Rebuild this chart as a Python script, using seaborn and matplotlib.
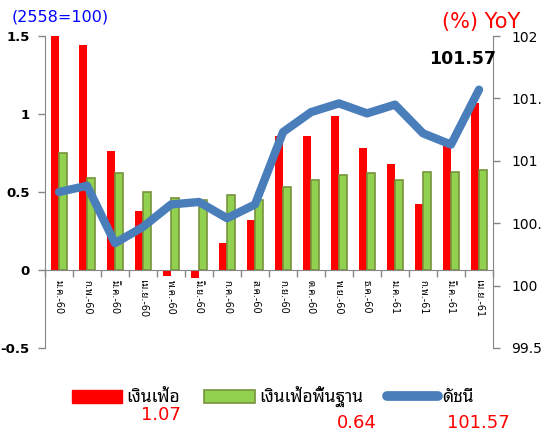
import numpy as np
import pandas as pd
import matplotlib
matplotlib.use("Agg")
import matplotlib.pyplot as plt
from matplotlib.patches import Patch
from matplotlib.lines import Line2D
from matplotlib.ticker import FixedLocator, FixedFormatter
import seaborn as sns

# Data
months = ["ม.ค.-60", "ก.พ.-60", "มี.ค.-60", "เม.ย.-60", "พ.ค.-60", "มิ.ย.-60",
          "ก.ค.-60", "ส.ค.-60", "ก.ย.-60", "ต.ค.-60", "พ.ย.-60", "ธ.ค.-60",
          "ม.ค.-61", "ก.พ.-61", "มี.ค.-61", "เม.ย.-61"]
headline = [1.55, 1.44, 0.76, 0.38, -0.04, -0.05, 0.17, 0.32,
            0.86, 0.86, 0.99, 0.78, 0.68, 0.42, 0.84, 1.07]
core = [0.75, 0.59, 0.62, 0.50, 0.46, 0.45, 0.48, 0.45,
        0.53, 0.58, 0.61, 0.62, 0.58, 0.63, 0.63, 0.64]
cpi_index = [100.75, 100.80, 100.34, 100.47, 100.65, 100.67, 100.54, 100.65,
             101.23, 101.39, 101.46, 101.38, 101.45, 101.22, 101.13, 101.57]
series_names = ["เงินเฟ้อ", "เงินเฟ้อพื้นฐาน", "ดัชนี"]
left_ticks = [-0.5, 0, 0.5, 1, 1.5]
left_labels = ["-0.5", "0", "0.5", "1", "1.5"]
right_ticks = [99.5, 100, 100.5, 101, 101.5, 102]
right_labels = ["99.5", "100", "100.", "101", "101.", "102"]

RED = "#ff0000"
GREEN = "#92d050"
GREEN_EDGE = "#77933c"
BLUE = "#4a7ebb"
GREY = "#868686"

sns.set_style("white", {"text.color": "black", "xtick.color": "black",
                        "ytick.color": "black"})
plt.rcParams["font.family"] = ["DejaVu Sans", "Noto Sans Thai Looped"]

df = pd.DataFrame({
    "month": months * 2,
    "value": headline + core,
    "series": [series_names[0]] * len(months) + [series_names[1]] * len(months),
})

fig = plt.figure(figsize=(5.45, 4.37), dpi=100)
ax = fig.add_axes([0.0826, 0.2037, 0.8220, 0.7139])

sns.barplot(data=df, x="month", y="value", hue="series", order=months,
            palette=[RED, GREEN], width=0.6, saturation=1, ax=ax, legend=False)
for bar in ax.containers[1]:
    bar.set_edgecolor(GREEN_EDGE)
    bar.set_linewidth(1.2)
for bar in ax.containers[0]:
    bar.set_linewidth(0)

ax.set_ylim(-0.5, 1.5)
ax.set_xlim(-0.5, len(months) - 0.5)
ax.set_xlabel("")
ax.set_ylabel("")
ax.yaxis.set_major_locator(FixedLocator(left_ticks))
ax.yaxis.set_major_formatter(FixedFormatter(left_labels))
ax.tick_params(axis="y", left=True, length=5, width=1, color=GREY,
               labelcolor="black", labelsize=9.5, pad=6)
for lab in ax.get_yticklabels():
    lab.set_fontweight("bold")

# category axis sits on the zero line
ax.spines["bottom"].set_position(("data", 0))
ax.spines["bottom"].set_color(GREY)
ax.spines["top"].set_visible(False)
ax.spines["left"].set_color(GREY)
ax.spines["right"].set_visible(False)
ax.xaxis.set_minor_locator(FixedLocator(np.arange(len(months) + 1) - 0.5))
ax.tick_params(axis="x", which="major", length=0, labelsize=7, pad=7,
               labelcolor="black", labelrotation=270)
ax.tick_params(axis="x", which="minor", bottom=True, length=5, width=1,
               color=GREY)

ax2 = ax.twinx()
sns.lineplot(x=np.arange(len(months)), y=cpi_index, color=BLUE, linewidth=6,
             solid_capstyle="round", solid_joinstyle="round", ax=ax2)
ax2.set_ylim(99.5, 102)
ax2.set_xlim(-0.5, len(months) - 0.5)
ax2.yaxis.set_major_locator(FixedLocator(right_ticks))
ax2.yaxis.set_major_formatter(FixedFormatter(right_labels))
ax2.tick_params(axis="y", right=True, length=5, width=1, color=GREY,
                labelcolor="black", labelsize=10, pad=8)
for side in ["top", "bottom", "left"]:
    ax2.spines[side].set_visible(False)
ax2.spines["right"].set_color(GREY)

# titles and annotations
fig.text(0.022, 0.961, "(2558=100)", color="#0000ff", fontsize=11.5, va="center")
fig.text(0.811, 0.95, "(%) YoY", color=RED, fontsize=15, va="center")
ax2.annotate(f"{cpi_index[-1]:.2f}", xy=(len(months) - 1, cpi_index[-1]),
             xytext=(-12, 22), textcoords="offset points", ha="center",
             va="center", fontsize=12.5, fontweight="bold", color="black")

# legend
handles = [Patch(facecolor=RED, edgecolor=RED),
           Patch(facecolor=GREEN, edgecolor=GREEN_EDGE, linewidth=1.2),
           Line2D([], [], color=BLUE, linewidth=7, solid_capstyle="round")]
fig.legend(handles, series_names, loc="center", bbox_to_anchor=(0.5, 0.092),
           ncol=3, frameon=False, fontsize=12.5, handlelength=2.9,
           handleheight=0.8, handletextpad=0.25, columnspacing=1.4,
           labelcolor="black")
fig.text(0.295, 0.05, f"{headline[-1]:.2f}", color=RED, fontsize=13, ha="center", va="center")
fig.text(0.655, 0.032, f"{core[-1]:.2f}", color=RED, fontsize=13, ha="center", va="center")
fig.text(0.877, 0.032, f"{cpi_index[-1]:.2f}", color=RED, fontsize=13, ha="center", va="center")

fig.savefig("out.png", dpi=100)
